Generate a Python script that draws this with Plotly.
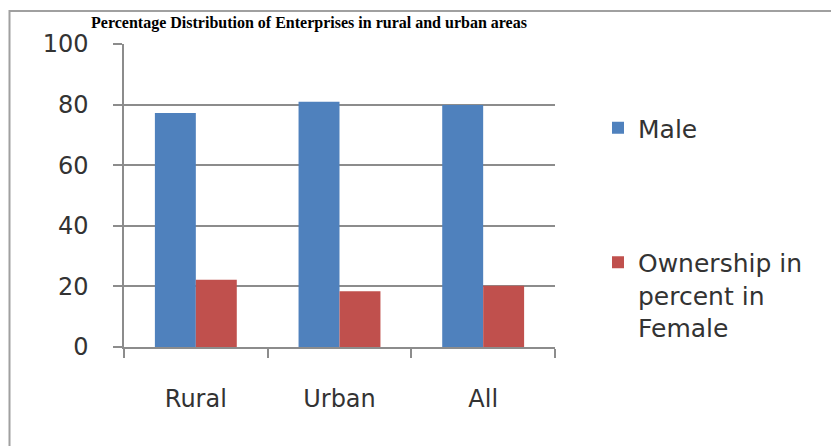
import plotly.graph_objects as go

# Enterprise ownership by area (percent)
categories = ["Rural", "Urban", "All"]
male = [77.2, 80.9, 79.9]
female = [22.2, 18.4, 20.2]
series_names = ["Male", "Ownership in<br>percent in<br>Female"]
y_ticks = [0, 20, 40, 60, 80, 100]

W, H = 831, 446
ML, MR, MT, MB = 124, 276, 44, 99
PW, PH = W - ML - MR, H - MT - MB


def px_to_paper_x(px):
    return (px - ML) / PW


def px_to_paper_y(py):
    return (H - MB - py) / PH


TEXT = "#333333"
AXIS = "#8c8c8c"
FONT = "DejaVu Sans"

fig = go.Figure()
fig.add_trace(go.Bar(
    x=categories, y=male, name=series_names[0],
    marker=dict(color="#4F81BD", line=dict(width=0)),
    legendgroup="m",
))
fig.add_trace(go.Bar(
    x=categories, y=female, name=series_names[1],
    marker=dict(color="#C0504D", line=dict(width=0)),
    legendgroup="f",
))

fig.update_layout(
    width=W, height=H,
    margin=dict(l=ML, r=MR, t=MT, b=MB),
    paper_bgcolor="white", plot_bgcolor="white",
    barmode="group", bargap=0.43, bargroupgap=0,
    font=dict(family=FONT, size=24, color=TEXT),
    title=dict(
        text="Percentage Distribution of Enterprises in rural and urban areas",
        font=dict(family="Liberation Serif", size=16, color="black", weight="bold"),
        x=px_to_paper_x(309), xref="paper", xanchor="center",
        y=1 - 22 / H, yanchor="middle",
    ),
    xaxis=dict(
        type="category", showline=True, linecolor=AXIS, linewidth=1.5,
        ticks="outside", tickson="boundaries", ticklen=9, tickcolor=AXIS,
        tickwidth=1.5, showgrid=False, ticklabelstandoff=29,
        tickfont=dict(size=24, color=TEXT),
    ),
    yaxis=dict(
        range=[0, 100], tickvals=y_ticks, showline=True, linecolor=AXIS,
        linewidth=1.5, ticks="outside", ticklen=9, tickcolor=AXIS, tickwidth=1.5,
        showgrid=True, gridcolor=AXIS, gridwidth=1.5, zeroline=False,
        ticklabelstandoff=20, tickfont=dict(size=24, color=TEXT),
    ),
    legend=dict(
        x=px_to_paper_x(598), xanchor="left",
        y=px_to_paper_y(105), yanchor="top",
        tracegroupgap=99, valign="top",
        font=dict(size=25, color=TEXT),
        bgcolor="rgba(0,0,0,0)",
        traceorder="grouped",
    ),
    showlegend=True,
)

# Chart frame
fig.add_shape(
    type="rect", xref="paper", yref="paper",
    x0=px_to_paper_x(9.5), y0=px_to_paper_y(11),
    x1=px_to_paper_x(W + 20), y1=px_to_paper_y(H + 20),
    line=dict(color="#a0a0a0", width=2), fillcolor="rgba(0,0,0,0)", layer="below",
)

fig.write_html("out.html")
